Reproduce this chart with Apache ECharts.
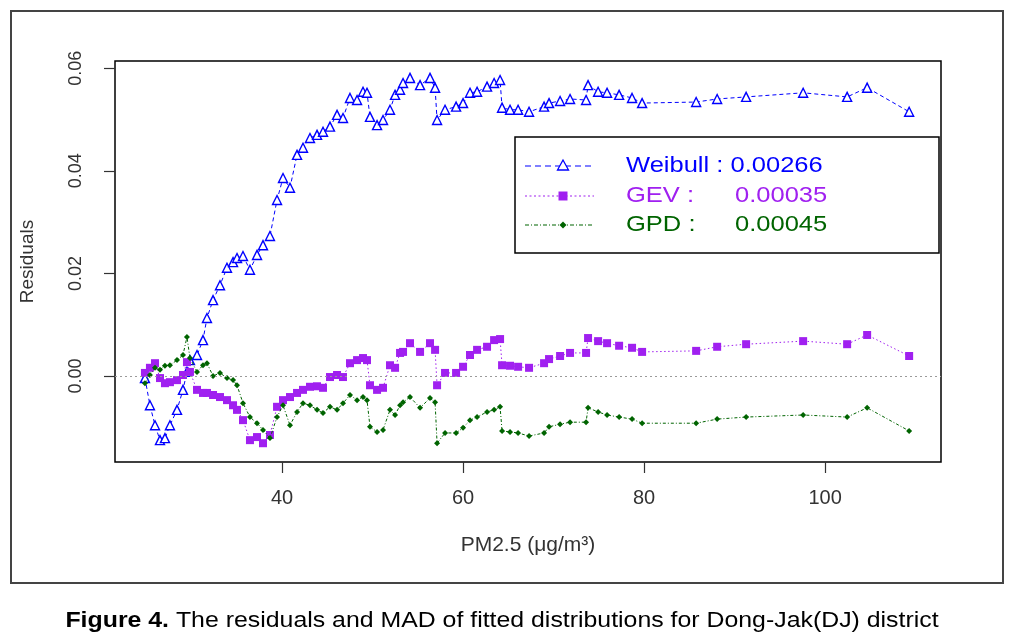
<!DOCTYPE html>
<html>
<head>
<meta charset="utf-8">
<script src="https://cdn.jsdelivr.net/npm/echarts@6/dist/echarts.min.js"></script>
<style>
html,body{margin:0;padding:0;background:#fff;}
#chart{width:1014px;height:639px;}
</style>
</head>
<body>
<div id="chart"></div>
<script>
// PM2.5 concentration (x) shared by the three fitted distributions
const pm25 = [24.86,25.41,25.97,26.52,27.07,27.62,28.40,29.06,29.50,29.83,30.61,31.27,31.71,32.38,33.15,33.92,34.59,35.03,35.69,36.46,37.24,37.90,38.67,39.45,40.11,40.88,41.66,42.32,43.09,43.87,44.53,45.30,46.08,46.74,47.51,48.29,48.95,49.39,49.72,50.50,51.16,51.93,52.49,53.04,
53.37,54.14,55.25,56.35,56.91,57.13,58.01,59.23,60.00,60.77,61.55,62.65,63.43,64.09,64.31,65.19,66.08,67.29,68.95,69.50,70.72,71.82,73.59,73.81,74.92,75.91,77.24,78.67,79.78,85.75,88.07,91.27,97.57,102.43,104.64,109.28];

const weibull = [-0.0004,-0.0057,-0.0096,-0.0125,-0.0121,-0.0096,-0.0066,-0.0027,0.0008,0.0031,0.0041,0.0070,0.0113,0.0148,0.0177,0.0211,0.0222,0.0230,0.0234,0.0207,0.0236,0.0255,0.0273,0.0343,0.0386,0.0367,0.0431,0.0445,0.0464,0.0470,0.0476,0.0486,0.0509,0.0503,0.0542,0.0538,0.0554,0.0552,0.0505,0.0489,0.0499,0.0519,0.0548,0.0558,
0.0571,0.0581,0.0567,0.0581,0.0562,0.0499,0.0519,0.0525,0.0532,0.0552,0.0554,0.0564,0.0571,0.0577,0.0523,0.0519,0.0519,0.0515,0.0525,0.0532,0.0536,0.0540,0.0538,0.0567,0.0554,0.0552,0.0548,0.0542,0.0532,0.0534,0.0540,0.0544,0.0552,0.0544,0.0562,0.0515];

const gev = [0.0006,0.0016,0.0025,-0.0004,-0.0014,-0.0012,-0.0008,0.0002,0.0027,0.0008,-0.0027,-0.0033,-0.0033,-0.0037,-0.0041,-0.0047,-0.0057,-0.0066,-0.0086,-0.0125,-0.0119,-0.0131,-0.0115,-0.0060,-0.0047,-0.0041,-0.0033,-0.0027,-0.0021,-0.0020,-0.0023,-0.0002,0.0002,-0.0002,0.0025,0.0031,0.0035,0.0031,-0.0018,-0.0027,-0.0023,0.0021,0.0016,0.0045,
0.0047,0.0064,0.0047,0.0064,0.0051,-0.0018,0.0006,0.0006,0.0018,0.0041,0.0051,0.0057,0.0070,0.0072,0.0021,0.0020,0.0018,0.0016,0.0025,0.0033,0.0039,0.0045,0.0045,0.0074,0.0068,0.0064,0.0059,0.0055,0.0047,0.0049,0.0057,0.0062,0.0068,0.0062,0.0080,0.0039];

const gpd = [-0.0014,0.0002,0.0016,0.0012,0.0020,0.0021,0.0031,0.0041,0.0076,0.0035,0.0008,0.0021,0.0025,0.0000,0.0006,-0.0004,-0.0008,-0.0018,-0.0053,-0.0080,-0.0092,-0.0105,-0.0121,-0.0080,-0.0057,-0.0096,-0.0070,-0.0053,-0.0057,-0.0066,-0.0072,-0.0060,-0.0066,-0.0053,-0.0037,-0.0047,-0.0041,-0.0047,-0.0099,-0.0109,-0.0105,-0.0066,-0.0076,-0.0057,
-0.0051,-0.0041,-0.0062,-0.0043,-0.0051,-0.0131,-0.0111,-0.0111,-0.0101,-0.0086,-0.0080,-0.0070,-0.0066,-0.0060,-0.0107,-0.0109,-0.0111,-0.0117,-0.0111,-0.0099,-0.0094,-0.0090,-0.0090,-0.0062,-0.0070,-0.0076,-0.0080,-0.0084,-0.0092,-0.0092,-0.0084,-0.0080,-0.0076,-0.0080,-0.0062,-0.0107];

const xTicks = [40, 60, 80, 100];
const yTicks = [0, 0.02, 0.04, 0.06];
const legendNames = ['Weibull : 0.00266', 'GEV :', 'GPD :'];
const legendMAD = ['', '0.00035', '0.00045'];
const captionBold = 'Figure 4.';
const captionRest = ' The residuals and MAD of fitted distributions for Dong-Jak(DJ) district';

const C_W = '#0000FF', C_G = '#A020F0', C_P = '#006400';
const FONT = "'Liberation Sans', Arial, sans-serif";

const pts = ys => pm25.map((x, i) => [x, ys[i]]);

const chart = echarts.init(document.getElementById('chart'), null, {renderer: 'canvas'});

const legX = 515, legY = 137, legW = 424, legH = 116;
const rowsY = [166, 196, 225];
const colors = [C_W, C_G, C_P];
const dashes = [[6, 4], [2, 2.5], [4, 2, 1, 2]];
const graphics = [
  {type: 'rect', shape: {x: 11, y: 11, width: 992, height: 572}, style: {fill: 'none', stroke: '#444', lineWidth: 2}, z: 0},
  {type: 'rect', shape: {x: legX, y: legY, width: legW, height: legH}, style: {fill: '#fff', stroke: '#000', lineWidth: 1.5}, z: 50}
];
rowsY.forEach((ry, i) => {
  graphics.push({type: 'line', shape: {x1: 525, y1: ry, x2: 594, y2: ry}, style: {stroke: colors[i], lineWidth: 1.2, lineDash: dashes[i]}, z: 51});
  graphics.push({type: 'text', x: 626, y: ry, scaleX: 1.16, style: {text: legendNames[i], fill: colors[i], font: '22px ' + FONT, textVerticalAlign: 'middle'}, z: 52});
  if (legendMAD[i]) {
    graphics.push({type: 'text', x: 735, y: ry, scaleX: 1.16, style: {text: legendMAD[i], fill: colors[i], font: '22px ' + FONT, textVerticalAlign: 'middle'}, z: 52});
  }
});
graphics.push({type: 'polygon', shape: {points: [[563, 160], [557.5, 170], [568.5, 170]]}, style: {fill: '#fff', stroke: C_W, lineWidth: 1.3}, z: 53});
graphics.push({type: 'rect', shape: {x: 558.5, y: 191.5, width: 9, height: 9}, style: {fill: C_G}, z: 53});
graphics.push({type: 'polygon', shape: {points: [[563, 221.5], [566.5, 225], [563, 228.5], [559.5, 225]]}, style: {fill: C_P}, z: 53});
graphics.push({type: 'text', x: 502, y: 621, scaleX: 1.13, style: {
  text: '{b|' + captionBold + '}{n|' + captionRest + '}',
  rich: {b: {font: 'bold 22px ' + FONT, fill: '#000'}, n: {font: '22px ' + FONT, fill: '#000'}},
  textAlign: 'center', textVerticalAlign: 'middle'}, z: 10});

const option = {
  backgroundColor: '#fff',
  animation: false,
  grid: {left: 115, top: 61, right: 73, bottom: 177, show: true, borderColor: '#000', borderWidth: 1.5, backgroundColor: 'transparent', containLabel: false},
  xAxis: {
    type: 'value', min: 21.55, max: 112.8,
    name: 'PM2.5 (μg/m³)', nameLocation: 'middle', nameGap: 73,
    nameTextStyle: {fontFamily: FONT, fontSize: 21, color: '#333'},
    axisLine: {show: false, onZero: false},
    splitLine: {show: false},
    axisTick: {show: true, inside: false, length: 11, customValues: xTicks, lineStyle: {color: '#333', width: 1.2}},
    axisLabel: {customValues: xTicks, margin: 26, fontFamily: FONT, fontSize: 20, color: '#333'}
  },
  yAxis: {
    type: 'value', min: -0.01676, max: 0.0614,
    name: 'Residuals', nameLocation: 'middle', nameGap: 78, nameRotate: 90,
    nameTextStyle: {fontFamily: FONT, fontSize: 19, color: '#333'},
    axisLine: {show: false, onZero: false},
    splitLine: {show: false},
    axisTick: {show: true, inside: false, length: 11, customValues: yTicks, lineStyle: {color: '#333', width: 1.2}},
    axisLabel: {customValues: yTicks, rotate: 90, margin: 30, fontFamily: FONT, fontSize: 18, color: '#333',
      formatter: v => v.toFixed(2)}
  },
  series: [
    {
      name: 'Weibull', type: 'line', data: pts(weibull),
      symbol: 'triangle', symbolSize: 9, showAllSymbol: true,
      lineStyle: {color: C_W, width: 1, type: [4, 3]},
      itemStyle: {color: '#fff', borderColor: C_W, borderWidth: 1.4},
      markLine: {silent: true, symbol: 'none', label: {show: false},
        lineStyle: {color: '#9a9a9a', type: [2, 3], width: 1},
        data: [{yAxis: 0}]},
      z: 2
    },
    {
      name: 'GEV', type: 'line', data: pts(gev),
      symbol: 'rect', symbolSize: 8, showAllSymbol: true,
      lineStyle: {color: C_G, width: 1, type: [1.5, 2.5]},
      itemStyle: {color: C_G},
      z: 3
    },
    {
      name: 'GPD', type: 'line', data: pts(gpd),
      symbol: 'diamond', symbolSize: 6, showAllSymbol: true,
      lineStyle: {color: C_P, width: 1, type: [3, 2, 1, 2]},
      itemStyle: {color: C_P},
      z: 4
    }
  ],
  graphic: graphics
};
chart.setOption(option);
</script>
</body>
</html>
